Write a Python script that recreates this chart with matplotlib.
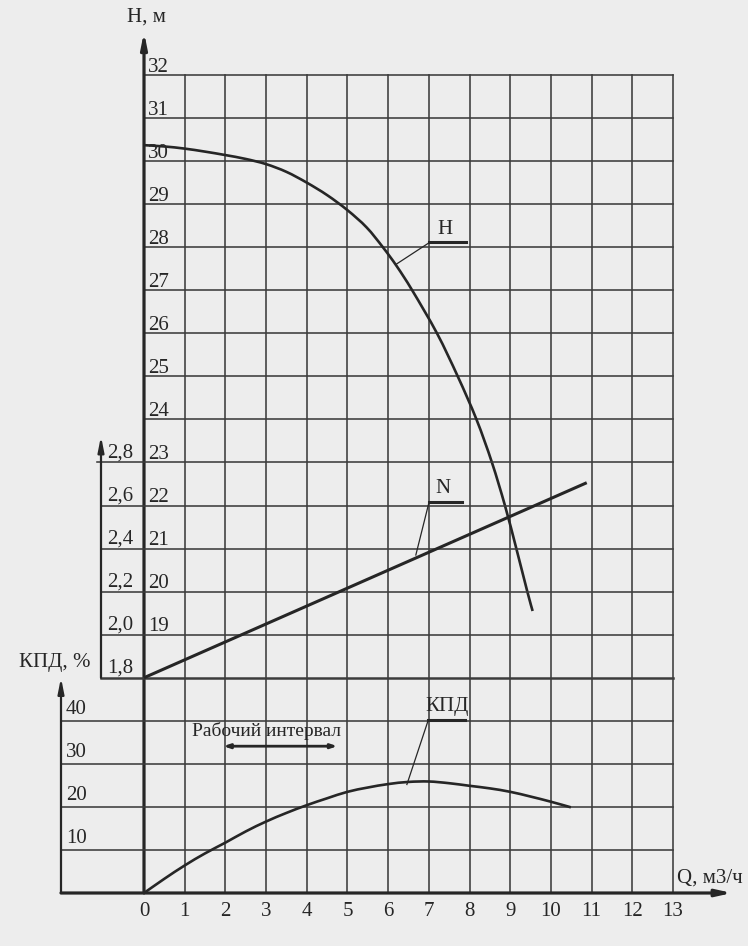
import matplotlib
matplotlib.use("Agg")
import matplotlib.pyplot as plt
import numpy as np
from matplotlib.path import Path
from matplotlib.patches import PathPatch

plt.rcParams["font.family"] = ["Liberation Serif", "DejaVu Serif"]

# ── данные ──────────────────────────────────────────────────────────────────
Q_TICKS = list(range(0, 14))
H_TICKS = list(range(19, 33))
N_TICKS = [1.8, 2.0, 2.2, 2.4, 2.6, 2.8]
KPD_TICKS = [10, 20, 30, 40]

# напорная характеристика H(Q), м
H_Q = [0, 0.5, 1, 1.5, 2, 2.5, 3, 3.5, 4, 4.5, 5, 5.47, 5.87, 6.21, 6.59,
       7.2, 7.71, 8.17, 8.55, 8.87, 9.15, 9.42, 9.55]
H_VAL = [30.37, 30.34, 30.29, 30.22, 30.14, 30.05, 29.93, 29.75, 29.5,
         29.21, 28.86, 28.46, 28.0, 27.56, 27.0, 26.0, 25.0, 24.0, 23.0,
         22.0, 21.0, 20.0, 19.55]

# мощность N(Q), кВт
N_Q = [0, 10.88]
N_VAL = [1.8, 2.706]

# КПД(Q), %
KPD_Q = [0, 0.5, 1, 1.5, 2, 2.5, 3, 3.5, 4, 4.5, 5, 5.5, 6, 6.5, 7, 7.5,
         8, 8.5, 9, 9.5, 10, 10.49]
KPD_VAL = [0, 3.3, 6.4, 9.2, 11.7, 14.3, 16.6, 18.6, 20.4, 22.0, 23.5,
           24.5, 25.3, 25.8, 25.9, 25.5, 24.9, 24.3, 23.5, 22.4, 21.2, 19.9]

# рабочий интервал по Q
WORK_Q = [1.95, 4.75]

# ── оформление ──────────────────────────────────────────────────────────────
BG = "#ededed"
INK = "#262626"
GRID = "#3c3c3c"

XLIM = (-3.539, 14.843)
HLIM = (11.769, 33.742)
N_AXIS_X = -1.057
KPD_AXIS_X = -2.04
Q_ARROW_X = 14.45


def h_to_n(h):
    return 1.8 + 0.2 * (h - 18)


def h_to_kpd(h):
    return 10 * (h - 13)


def smooth_path(xs, ys):
    """Гладкая кривая через точки (Catmull-Rom -> кубические Безье)."""
    pts = np.column_stack([xs, ys]).astype(float)
    verts = [pts[0]]
    codes = [Path.MOVETO]
    for i in range(len(pts) - 1):
        p0 = pts[i - 1] if i > 0 else pts[i]
        p1, p2 = pts[i], pts[i + 1]
        p3 = pts[i + 2] if i + 2 < len(pts) else pts[i + 1]
        verts += [p1 + (p2 - p0) / 6, p2 - (p3 - p1) / 6, p2]
        codes += [Path.CURVE4] * 3
    return Path(verts, codes)


fig = plt.figure(figsize=(7.48, 9.46), dpi=100)
fig.patch.set_facecolor(BG)
ax = fig.add_axes([0, 0, 1, 1])
ax_n = ax.twinx()
ax_k = ax.twinx()
for a in (ax, ax_n, ax_k):
    a.set_facecolor("none")
    a.set_axis_off()
ax.set_xlim(*XLIM)
ax.set_ylim(*HLIM)
ax_n.set_ylim(h_to_n(HLIM[0]), h_to_n(HLIM[1]))
ax_k.set_ylim(h_to_kpd(HLIM[0]), h_to_kpd(HLIM[1]))

glw = 1.15

# сетка: вертикали
for q in Q_TICKS[1:]:
    ax.plot([q, q], [13, 32], color=GRID, lw=glw, zorder=1)
# сетка: горизонтали зоны H
for h in range(24, 33):
    ax.plot([0, 13], [h, h], color=GRID, lw=glw, zorder=1)
# зона N
for n in N_TICKS:
    x0 = N_AXIS_X - 0.1 if n == N_TICKS[-1] else N_AXIS_X
    lw = 1.8 if n == N_TICKS[0] else glw
    ax_n.plot([x0, 13], [n, n], color=GRID, lw=lw, zorder=1)
# зона КПД
for k in KPD_TICKS:
    ax_k.plot([KPD_AXIS_X, 13], [k, k], color=GRID, lw=glw, zorder=1)

arrow = dict(arrowstyle="-|>,head_length=0.9,head_width=0.18",
             color=INK, shrinkA=0, shrinkB=0)

# ось H (Q = 0)
ax.annotate("", xy=(0, 33.0), xytext=(0, 13),
            arrowprops=dict(arrow, lw=2.3), zorder=3)
# ось N
ax_n.annotate("", xy=(N_AXIS_X, h_to_n(23.61)), xytext=(N_AXIS_X, 1.8),
              arrowprops=dict(arrow, lw=1.6), zorder=3)
# ось КПД
ax_k.annotate("", xy=(KPD_AXIS_X, 50), xytext=(KPD_AXIS_X, 0),
              arrowprops=dict(arrow, lw=1.6), zorder=3)
# ось Q
ax_k.annotate("", xy=(Q_ARROW_X, 0), xytext=(KPD_AXIS_X, 0),
              arrowprops=dict(arrowstyle="-|>,head_length=0.9,head_width=0.2",
                              color=INK, shrinkA=0, shrinkB=0, lw=2.3),
              zorder=3)

# подписи шкал
fs = 15
for h in H_TICKS:
    ax.text(0.1, h + 0.08, str(h), fontsize=fs, color=INK,
            ha="left", va="baseline")
for n in N_TICKS:
    ax_n.text(N_AXIS_X + 0.15, n + 0.022, f"{n:.1f}".replace(".", ","),
              fontsize=fs, color=INK, ha="left", va="baseline")
for k in KPD_TICKS:
    ax_k.text(KPD_AXIS_X + 0.12, k + 1.6, str(k), fontsize=fs, color=INK,
              ha="left", va="baseline")
for q in Q_TICKS:
    ax.text(q, 12.56, str(q), fontsize=fs, color=INK,
            ha="center", va="center")

ax.text(0.05, 33.35, "H, м", fontsize=fs, color=INK, ha="center", va="center")
ax.text(-2.19, 18.35, "КПД, %", fontsize=fs, color=INK,
        ha="center", va="center")
ax.text(13.91, 13.35, "Q, м3/ч", fontsize=fs, color=INK,
        ha="center", va="center")

# характеристики
ax.add_patch(PathPatch(smooth_path(H_Q, H_VAL), fill=False, edgecolor=INK,
                       lw=1.9, zorder=4))
ax_n.plot(N_Q, N_VAL, color=INK, lw=2.2, zorder=4, solid_capstyle="butt")
ax_k.add_patch(PathPatch(smooth_path(KPD_Q, KPD_VAL), fill=False,
                         edgecolor=INK, lw=1.9, zorder=4))

# выноски
ax.text(7.40, 28.2, "H", fontsize=fs, color=INK, ha="center", va="bottom")
ax.plot([7.0, 7.91], [28.12, 28.12], color=INK, lw=2.2)
ax.plot([7.0, 6.19], [28.10, 27.60], color=INK, lw=0.9)

ax_n.text(7.35, h_to_n(22.17), "N", fontsize=fs, color=INK,
          ha="center", va="bottom")
ax_n.plot([7.0, 7.82], [h_to_n(22.08)] * 2, color=INK, lw=2.2)
ax_n.plot([7.0, 6.68], [h_to_n(22.06), h_to_n(20.85)], color=INK, lw=0.9)

ax_k.text(7.45, 41.0, "КПД", fontsize=fs, color=INK,
          ha="center", va="bottom")
ax_k.plot([6.98, 7.89], [40.2, 40.2], color=INK, lw=2.2)
ax_k.plot([6.98, 6.46], [40.0, 25.2], color=INK, lw=0.9)

# рабочий интервал
ax_k.text(3.01, 37.6, "Рабочий интервал", fontsize=14,
          color=INK, ha="center", va="center")
ax_k.annotate("", xy=(WORK_Q[1], 34.1), xytext=(WORK_Q[0], 34.1),
              arrowprops=dict(arrowstyle="<|-|>,head_length=0.35,head_width=0.12",
                              color=INK, lw=2.0, shrinkA=0, shrinkB=0))

fig.savefig("out.png", dpi=100, facecolor=fig.get_facecolor())
